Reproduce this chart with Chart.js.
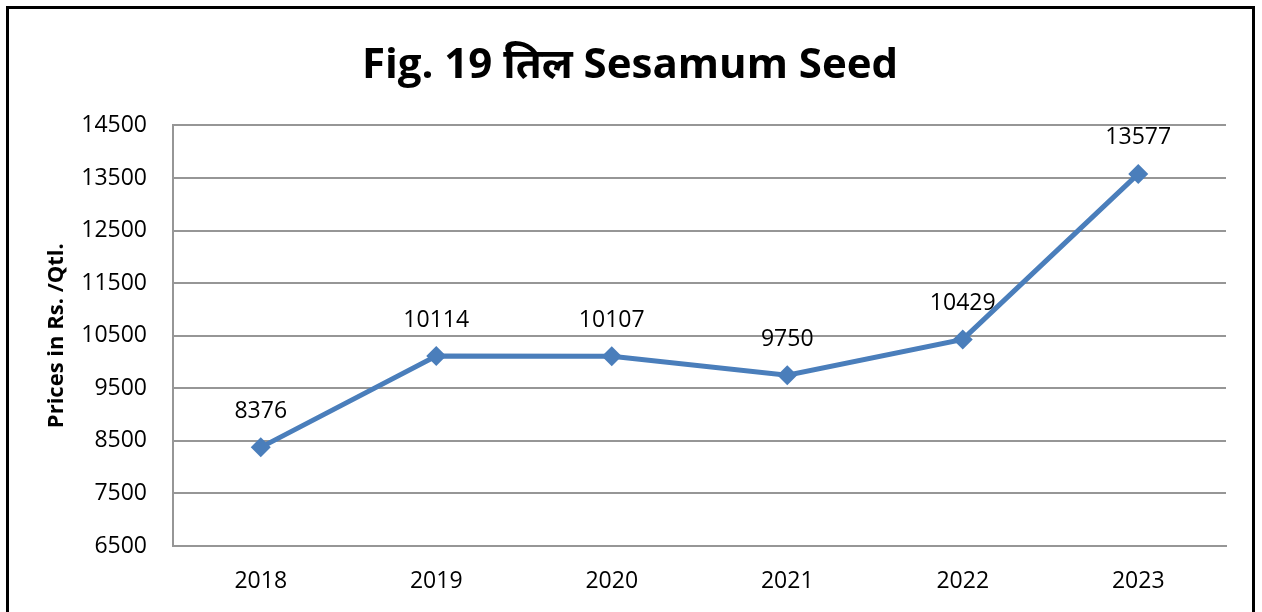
<!DOCTYPE html>
<html>
<head>
<meta charset="utf-8">
<script src="https://cdn.jsdelivr.net/npm/chart.js@4/dist/chart.umd.min.js"></script>
<style>
  body { margin: 0; background: #fff; }
  #frame { position: absolute; left: 6px; top: 6px; width: 1249px; height: 640px; border: 3px solid #000; box-sizing: border-box; }
  #myChart { position: absolute; left: 0; top: 0; }
</style>
</head>
<body>
<div id="frame"></div>
<canvas id="myChart" width="1262" height="612"></canvas>
<script>
// chart data
var years = ["2018", "2019", "2020", "2021", "2022", "2023"];
var prices = [8376, 10114, 10107, 9750, 10429, 13577];
var yTicks = [6500, 7500, 8500, 9500, 10500, 11500, 12500, 13500, 14500];

var fontFam = "'Open Sans', 'Noto Sans', sans-serif";
var lineBlue = "#4a7ebb";
var gridGrey = "#969696";

// Draw the value above each point
var valueLabels = {
  id: 'valueLabels',
  afterDatasetsDraw: function(chart) {
    var ctx = chart.ctx;
    var meta = chart.getDatasetMeta(0);
    ctx.save();
    ctx.font = "23px " + fontFam;
    ctx.fillStyle = "#000";
    ctx.textAlign = "center";
    ctx.textBaseline = "middle";
    meta.data.forEach(function(pt, i) {
      ctx.fillText(String(chart.data.datasets[0].data[i]), pt.x, pt.y - 36);
    });
    ctx.restore();
  }
};

new Chart("myChart", {
  type: "line",
  data: {
    labels: years,
    datasets: [{
      data: prices,
      borderColor: lineBlue,
      backgroundColor: lineBlue,
      borderWidth: 5,
      pointStyle: "rectRot",
      pointRadius: 10,
      pointBorderWidth: 0,
      pointBackgroundColor: lineBlue,
      tension: 0,
      fill: false
    }]
  },
  options: {
    responsive: false,
    animation: false,
    layout: { padding: { left: 34, right: 36, top: 0, bottom: 0 } },
    plugins: {
      legend: { display: false },
      tooltip: { enabled: false },
      title: {
        display: true,
        text: "Fig. 19 तिल Sesamum Seed",
        color: "#000",
        font: { family: fontFam, size: 42, weight: "bold", lineHeight: 1.2 },
        padding: { top: 41, bottom: 34 }
      }
    },
    scales: {
      x: {
        offset: true,
        grid: { display: false, drawTicks: false },
        border: { display: true, color: gridGrey, width: 2 },
        ticks: { color: "#000", padding: 22, font: { family: fontFam, size: 23 } },
        afterFit: function(scale) { scale.height = 66; }
      },
      y: {
        min: 6500,
        max: 14500,
        afterBuildTicks: function(scale) {
          scale.ticks = yTicks.map(function(v) { return { value: v }; });
        },
        grid: { color: gridGrey, lineWidth: 2, drawTicks: false },
        border: { display: true, color: gridGrey, width: 2 },
        ticks: {
          color: "#000", padding: 26, font: { family: fontFam, size: 23 },
          callback: function(v) { return String(v); }
        },
        title: {
          display: true,
          text: "Prices in Rs. /Qtl.",
          color: "#000",
          font: { family: fontFam, size: 22, weight: "bold", lineHeight: 1.2 },
          padding: { top: 10, bottom: 0 }
        },
        afterFit: function(scale) { scale.width = 139; }
      }
    }
  },
  plugins: [valueLabels]
});
</script>
</body>
</html>
